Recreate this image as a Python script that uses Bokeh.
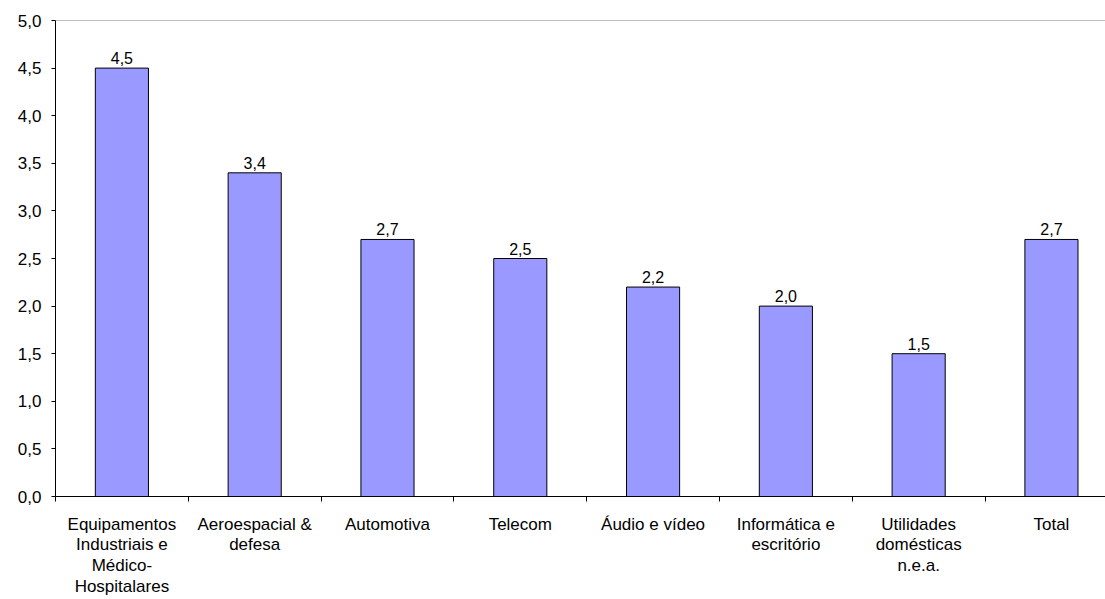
from bokeh.plotting import figure
from bokeh.models import Range1d, FixedTicker, Span, ColumnDataSource
from bokeh.core.properties import value
from bokeh.embed import file_html
from bokeh.resources import INLINE

categories = ["Equipamentos\nIndustriais e\nMédico-\nHospitalares", "Aeroespacial &\ndefesa", "Automotiva",
              "Telecom", "Áudio e vídeo", "Informática e\nescritório", "Utilidades\ndomésticas\nn.e.a.", "Total"]
values = [4.5, 3.4, 2.7, 2.5, 2.2, 2.0, 1.5, 2.7]
value_labels = ["4,5", "3,4", "2,7", "2,5", "2,2", "2,0", "1,5", "2,7"]
y_ticks = [0, 0.5, 1, 1.5, 2, 2.5, 3, 3.5, 4, 4.5, 5]
y_tick_labels = ["0,0", "0,5", "1,0", "1,5", "2,0", "2,5", "3,0", "3,5", "4,0", "4,5", "5,0"]

FONT = "Liberation Sans"
n = len(categories)
xs = [i + 0.5 for i in range(n)]

src = ColumnDataSource(dict(x=xs, top=values, lab=value_labels))

p = figure(width=1105, height=599, output_backend="svg", toolbar_location=None,
           x_range=Range1d(0, 7.907), y_range=Range1d(0, 5),
           min_border_left=55, min_border_right=0, min_border_top=20, min_border_bottom=103)
p.outline_line_color = None
p.xgrid.visible = False
p.ygrid.visible = False
p.background_fill_color = "white"
p.border_fill_color = "white"

p.vbar(x="x", top="top", bottom=0, width=0.4, source=src,
       fill_color="#9999FF", line_color="black", line_width=1)
p.text(x="x", y="top", text="lab", source=src, text_align="center", text_baseline="bottom",
       y_offset=-4, text_font=value(FONT), text_font_size="16px", text_color="black")

p.add_layout(Span(location=5, dimension="width", line_color="#808080", line_width=1))

# x axis
xa = p.xaxis[0]
xa.ticker = FixedTicker(ticks=xs, minor_ticks=list(range(n + 1)))
xa.major_label_overrides = {x: c for x, c in zip(xs, categories)}
xa.major_tick_out = 0
xa.major_tick_in = 0
xa.minor_tick_out = 5
xa.minor_tick_in = 0
xa.minor_tick_line_color = "black"
xa.axis_line_color = "black"
xa.major_label_text_font = FONT
xa.major_label_text_font_size = "17px"
xa.major_label_text_line_height = 1.1
xa.major_label_text_color = "black"
xa.major_label_standoff = 13

# y axis
ya = p.yaxis[0]
ya.ticker = FixedTicker(ticks=y_ticks, minor_ticks=[])
ya.major_label_overrides = {t: l for t, l in zip(y_ticks, y_tick_labels)}
ya.major_tick_out = 4
ya.major_tick_in = 0
ya.major_tick_line_color = "black"
ya.axis_line_color = "black"
ya.major_label_text_font = FONT
ya.major_label_text_font_size = "17px"
ya.major_label_text_color = "black"
ya.major_label_standoff = 10

open("out.html", "w").write(file_html(p, INLINE))
